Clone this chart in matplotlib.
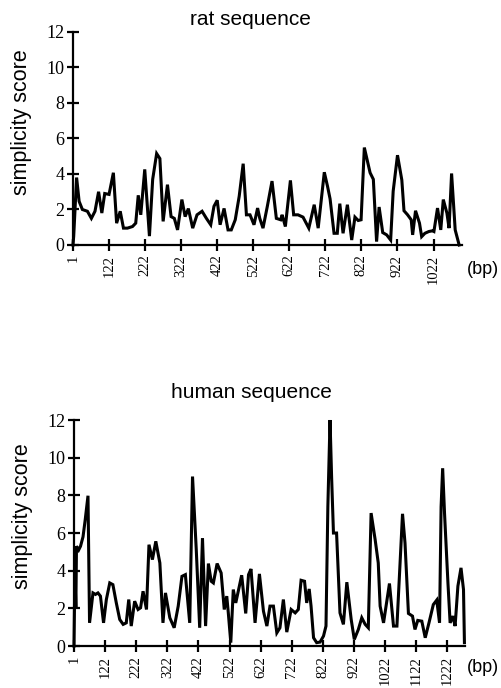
import matplotlib
matplotlib.use('Agg')
import matplotlib.pyplot as plt

# rat sequence (position along axis in bp, simplicity score)
rat_bp = [22, 24, 32, 39, 48, 62, 73, 83, 93, 102, 110, 122, 134, 143, 153, 162, 173, 187, 196, 203,
          210, 221, 234, 243, 254, 263, 272, 284, 294, 303, 312, 324, 333, 342, 354, 366, 380, 392, 404, 413,
          422, 430, 441, 452, 461, 472, 483, 494, 503, 513, 524, 534, 540, 549, 561, 574, 586, 598, 602, 611,
          625, 634, 646, 660, 676, 691, 702, 719, 728, 735, 746, 755, 762, 771, 783, 795, 804, 813, 821, 830,
          846, 855, 864, 871, 881, 892, 903, 910, 922, 934, 940, 950, 960, 964, 972, 983, 989, 998, 1009, 1019,
          1023, 1033, 1042, 1049, 1059, 1065, 1072, 1082, 1093]
rat_score = [0, 0.5, 3.8, 2.46, 2.0, 1.9, 1.5, 1.9, 3.0, 1.8, 2.9, 2.85, 4.07, 1.23, 1.9, 0.95, 0.95, 1.04, 1.23, 2.8,
             1.7, 4.26, 0.5, 3.7, 5.15, 4.87, 1.33, 3.4, 1.6, 1.5, 0.85, 2.56, 1.6, 2.05, 0.95, 1.7, 1.9, 1.5, 1.14, 2.18,
             2.52, 1.14, 2.06, 0.85, 0.85, 1.42, 2.75, 4.58, 1.7, 1.7, 1.14, 2.08, 1.5, 0.95, 2.18, 3.6, 1.5, 1.42, 1.7, 1.04,
             3.64, 1.7, 1.7, 1.57, 0.95, 2.27, 0.95, 4.1, 3.3, 2.6, 0.66, 0.66, 2.33, 0.66, 2.27, 0.28, 1.57, 1.38, 1.42, 5.49,
             4.07, 3.7, 0.19, 2.14, 0.7, 0.57, 0.28, 3.03, 5.06, 3.66, 1.93, 1.7, 1.42, 0.57, 1.93, 1.23, 0.47, 0.66, 0.76, 0.8,
             0.76, 2.08, 0.85, 2.56, 1.8, 0.95, 4.03, 0.85, 0]

# human sequence
human_bp = [22, 25, 28, 30, 37, 43, 51, 58, 67, 72, 83, 91, 99, 107, 117, 126, 137, 147, 158, 169,
            180, 190, 198, 206, 217, 228, 236, 244, 255, 263, 274, 285, 298, 308, 316, 330, 344, 357, 369, 380,
            394, 403, 415, 426, 435, 445, 454, 463, 470, 482, 495, 505, 513, 518, 526, 534, 542, 550, 561, 574,
            583, 591, 604, 618, 631, 642, 652, 663, 674, 684, 695, 706, 720, 733, 743, 752, 763, 770, 778, 784,
            792, 802, 813, 824, 832, 838, 845, 850, 856, 866, 877, 888, 899, 913, 923, 936, 947, 958, 968, 977,
            990, 1000, 1006, 1017, 1036, 1049, 1060, 1078, 1086, 1097, 1110, 1118, 1127, 1140, 1151, 1163, 1177, 1188, 1197, 1202,
            1207, 1213, 1224, 1231, 1240, 1247, 1256, 1266, 1274, 1277]
human_score = [0, 4.0, 2.0, 5.3, 5.1, 5.3, 5.8, 6.7, 7.98, 1.23, 2.82, 2.74, 2.82, 2.65, 1.23, 2.47, 3.35, 3.26, 2.29, 1.41,
               1.15, 1.23, 2.47, 1.06, 2.38, 1.94, 2.03, 2.91, 1.94, 5.38, 4.59, 5.56, 4.41, 1.23, 2.82, 1.5, 0.97, 2.12, 3.7, 3.79,
               1.23, 9.0, 5.12, 0.97, 5.73, 1.06, 4.38, 3.44, 3.35, 4.38, 3.88, 1.94, 2.65, 1.76, 0.18, 3.0, 2.29, 2.91, 3.76, 1.73,
               3.79, 4.09, 1.23, 3.83, 1.85, 1.06, 2.12, 2.12, 0.7, 0.97, 2.47, 0.74, 1.94, 1.76, 1.94, 3.49, 3.44, 2.29, 3.03, 2.12,
               0.44, 0.18, 0.21, 0.53, 1.06, 7.4, 12.0, 9.0, 6.0, 6.0, 1.76, 1.15, 3.39, 1.41, 0.35, 0.88, 1.5, 1.15, 0.97, 7.06,
               5.65, 4.41, 2.12, 1.23, 3.32, 1.06, 1.06, 7.02, 5.47, 1.73, 1.59, 0.88, 1.36, 1.32, 0.44, 1.23, 2.2, 2.44, 1.23, 7.4,
               9.44, 7.06, 3.35, 1.23, 1.59, 1.06, 3.18, 4.15, 3.0, 0.18]

rat_ticks = ['1', '122', '222', '322', '422', '522', '622', '722', '822', '922', '1022']
human_ticks = ['1', '122', '222', '322', '422', '522', '622', '722', '822', '922', '1022', '1122', '1222']
y_ticks = [0, 2, 4, 6, 8, 10, 12]

SANS = 'Liberation Sans'
SERIF = 'Liberation Serif'


def draw_panel(ax, bp, score, ticks, xmax, title, title_pad, bp_xy):
    ax.plot(bp, score, color='black', lw=2.2, clip_on=False, solid_joinstyle='miter')
    ax.set_xlim(22, xmax)
    ax.set_ylim(0, 12)
    for s in ['top', 'right']:
        ax.spines[s].set_visible(False)
    for s in ['left', 'bottom']:
        ax.spines[s].set_linewidth(1.6)
    pos = [22] + [int(t) for t in ticks[1:]]
    ax.set_xticks(pos)
    ax.set_xticklabels(ticks, rotation=90, fontfamily=SERIF, fontsize=10.5)
    ax.set_yticks(y_ticks)
    ax.set_yticklabels([str(v) for v in y_ticks], fontfamily=SERIF, fontsize=13)
    ax.tick_params(axis='both', direction='inout', length=8, width=1.6, colors='black')
    ax.tick_params(axis='y', pad=2)
    ax.tick_params(axis='x', pad=3)
    ax.set_ylabel('simplicity score', fontfamily=SANS, fontsize=15.5)
    ax.yaxis.set_label_coords(-0.105, 0.575)
    ax.set_title(title, fontfamily=SANS, fontsize=15, x=0.455, pad=title_pad)
    ax.text(bp_xy[0], bp_xy[1], '(bp)', transform=ax.transAxes, fontfamily=SANS, fontsize=13,
            ha='left', va='center')


fig = plt.figure(figsize=(5.02, 6.88), dpi=100)
ax1 = fig.add_axes([0.1454, 0.6439, 0.775, 0.3096])
ax2 = fig.add_axes([0.1474, 0.061, 0.779, 0.3285])

draw_panel(ax1, rat_bp, rat_score, rat_ticks, 1101, 'rat sequence', 5, (1.012, -0.117))
draw_panel(ax2, human_bp, human_score, human_ticks, 1279, 'human sequence', 16, (1.005, -0.097))

plt.savefig('out.png', dpi=100)
plt.close()
